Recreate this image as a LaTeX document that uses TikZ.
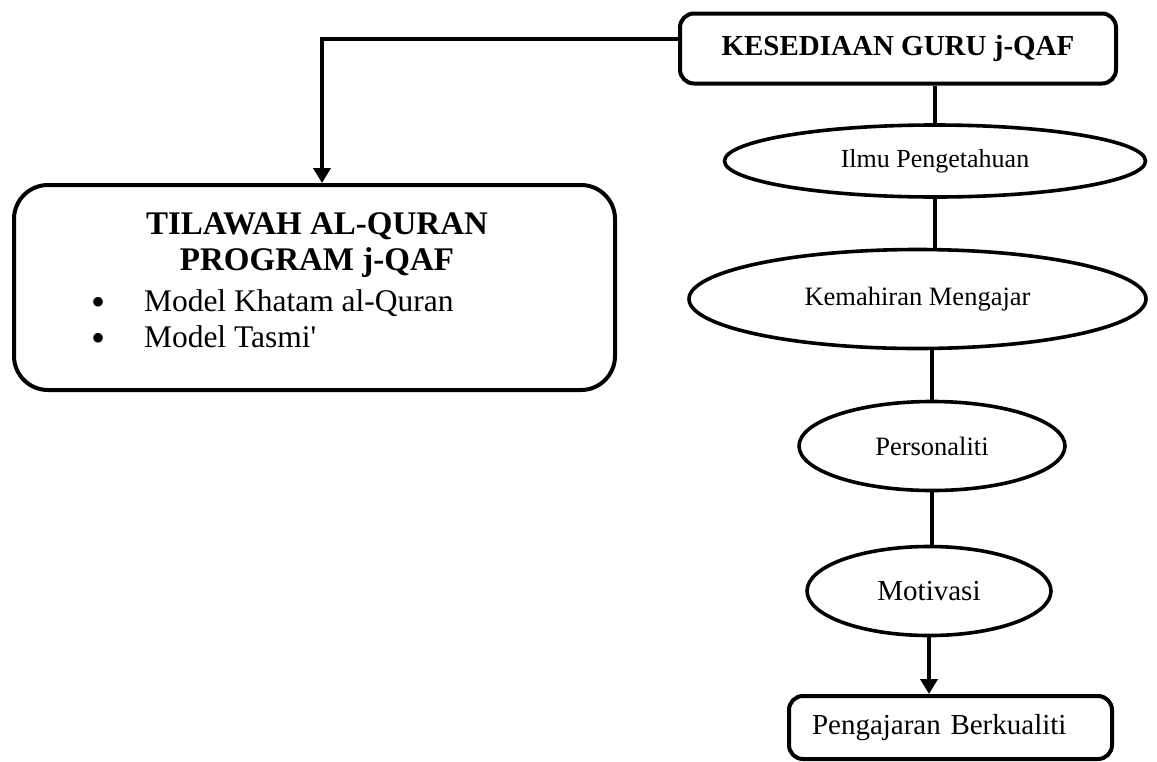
\documentclass[tikz,border=0pt]{standalone}
\usepackage{fontspec}
\setmainfont{Liberation Serif}
\usetikzlibrary{shapes.geometric,arrows.meta}
\begin{document}
\begin{tikzpicture}[x=1pt,y=-1pt,
  line width=4pt,
  boxa/.style={draw,rounded corners=14pt,inner sep=0pt},
  ell/.style={draw,ellipse,inner sep=0pt,line width=3.6pt},
  arr/.style={-{Triangle[width=17pt,length=15pt]}},
  txt/.style={inner sep=0pt,anchor=base},
]
\useasboundingbox (0,0) rectangle (1157,761);
% top box
\node[boxa,minimum width=436pt,minimum height=70pt,font=\fontsize{29}{34}\selectfont\bfseries] (top) at (898,48.5) {KESEDIAAN GURU j-QAF};
% left box
\node[draw,rounded corners=34pt,minimum width=601pt,minimum height=205pt,inner sep=0pt] (tila) at (314.5,287.5) {};
\node[txt,font=\fontsize{33}{38}\selectfont\bfseries] (t1) at (317,234) {TILAWAH AL-QURAN};
\node[txt,font=\fontsize{33}{38}\selectfont\bfseries] (t2) at (317,270) {PROGRAM j-QAF};
\node[txt,font=\fontsize{40}{44}\selectfont] (b1) at (99,315) {•};
\node[txt,font=\fontsize{40}{44}\selectfont] (b2) at (99,351) {•};
\node[txt,anchor=base west,font=\fontsize{31.5}{36}\selectfont] (m1) at (142,311) {Model Khatam al-Quran};
\node[txt,anchor=base west,font=\fontsize{31.5}{36}\selectfont] (m2) at (142,347) {Model Tasmi\textquotesingle};
% ellipses
\node[ell,minimum width=421pt,minimum height=72pt,font=\fontsize{26}{30}\selectfont] (e1) at (935,161) {Ilmu Pengetahuan};
\node[ell,minimum width=457pt,minimum height=99pt,font=\fontsize{26.5}{30}\selectfont] (e2) at (917.5,299) {Kemahiran Mengajar};
\node[ell,minimum width=266pt,minimum height=89pt,font=\fontsize{26.5}{30}\selectfont] (e3) at (932,446) {Personaliti};
\node[ell,minimum width=244pt,minimum height=89pt,font=\fontsize{29}{34}\selectfont] (e4) at (929,591) {Motivasi};
% bottom box
\node[boxa,anchor=north west,minimum height=63pt,text width=277pt,align=left,inner xsep=23pt,inner ysep=0pt,font=\fontsize{29}{34}\selectfont] (bot) at (787,694) {Pengajaran Berkualiti};
% connectors
\coordinate (c1) at (322,39);
\draw[arr] ([yshift=9.5pt]top.west) -- (c1) -- (c1 |- tila.north);
\draw (e1.north |- top.south) -- (e1.north);
\draw (e1.south) -- (e1.south |- e2.north);
\draw (e3.north |- e2.south) -- (e3.north);
\draw (e3.south) -- (e3.south |- e4.north);
\draw[arr] (e4.south) -- (e4.south |- bot.north);
\end{tikzpicture}
\end{document}
